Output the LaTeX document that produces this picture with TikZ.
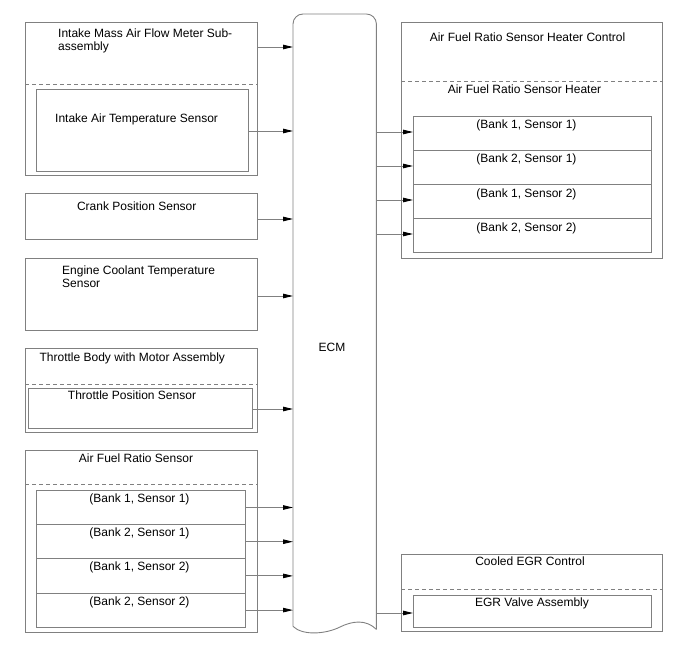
\documentclass[tikz,border=0pt]{standalone}
\usepackage{fontspec}
\setmainfont{Liberation Sans}
\usetikzlibrary{arrows.meta}
\definecolor{frame}{HTML}{808080}
\definecolor{ink}{HTML}{000000}

\begin{document}
\begin{tikzpicture}[x=1pt,y=-1pt,
  text=ink,
  font=\fontsize{12}{13.5}\selectfont,
  box/.style={draw=frame,line width=.9pt,anchor=north west,inner sep=0pt},
  sep/.style={draw=frame,line width=.8pt,dash pattern=on 4pt off 3pt},
  arrow/.style={draw=frame,line width=.9pt,-{Triangle[length=10pt,width=4.5pt,color=ink]}},
  txt/.style={inner sep=0pt,anchor=base},
  para/.style={inner sep=0pt,anchor=north west,align=left}
]
  \useasboundingbox (0,0) rectangle (688,658);

  % ECM
  \node[inner sep=0pt,minimum width=83,minimum height=612,anchor=north west] (ecm) at (293,14) {};
  \draw[draw=frame,line width=.9pt,rounded corners=10pt]
    ([yshift=-3pt]ecm.south east) -- (ecm.north east) -- (ecm.north west) -- (ecm.south west);
  \draw[draw=frame,line width=.9pt] (ecm.south west)
    .. controls (303,636) and (326,634) .. (340,627)
    .. controls (352,621) and (366,619) .. ([yshift=-3pt]ecm.south east);
  \node[txt] (ecmtxt) at (332,351.5) {ECM};

  % left column
  \node[box,minimum width=232,minimum height=153] (maf) at (25,22) {};
  \draw[sep] (maf.west |- 0,84) -- (maf.east |- 0,84);
  \node[para] (maftxt) at (58,28.5) {Intake Mass Air Flow Meter Sub-\\assembly};
  \node[box,minimum width=212,minimum height=82] (iat) at (36,89) {};
  \node[txt,anchor=base west] (iattxt) at (55,122.5) {Intake Air Temperature Sensor};

  \node[box,minimum width=232,minimum height=46] (crank) at (25,193) {};
  \node[txt] (cranktxt) at (136.7,210.5) {Crank Position Sensor};

  \node[box,minimum width=232,minimum height=72] (ect) at (25,258) {};
  \node[para] (ecttxt) at (62,265.5) {Engine Coolant Temperature\\Sensor};

  \node[box,minimum width=232,minimum height=84] (tb) at (25,348) {};
  \draw[sep] (tb.west |- 0,384) -- (tb.east |- 0,384);
  \node[txt] (tbtxt) at (132.3,361.5) {Throttle Body with Motor Assembly};
  \node[box,minimum width=224,minimum height=40] (tps) at (28,388) {};
  \node[txt] (tpstxt) at (132,399.5) {Throttle Position Sensor};

  \node[box,minimum width=232,minimum height=182] (afs) at (25,450) {};
  \draw[sep] (afs.west |- 0,484) -- (afs.east |- 0,484);
  \node[txt] (afstxt) at (136,462.5) {Air Fuel Ratio Sensor};

  \coordinate (mafp) at ([yshift=-25pt]maf.north east);
  \coordinate (iatp) at ([yshift=-42pt]iat.north east);
  \coordinate (crankp) at ([yshift=-26pt]crank.north east);
  \coordinate (ectp) at ([yshift=-38pt]ect.north east);
  \coordinate (tpsp) at ([yshift=-21pt]tps.north east);
  \foreach \n in {maf,iat,crank,ect,tps}
    \draw[arrow] (\n p) -- (\n p -| ecm.west);

  % right column
  \node[box,minimum width=261,minimum height=236] (hc) at (401,22) {};
  \draw[sep] (hc.west |- 0,81) -- (hc.east |- 0,81);
  \node[txt] (hctxt) at (527.5,41.5) {Air Fuel Ratio Sensor Heater Control};
  \node[txt] (hstxt) at (524.5,93.5) {Air Fuel Ratio Sensor Heater};

  \node[box,minimum width=261,minimum height=77] (egc) at (401,554) {};
  \draw[sep] (egc.west |- 0,589) -- (egc.east |- 0,589);
  \node[txt] (egctxt) at (530,565.5) {Cooled EGR Control};
  \node[box,minimum width=238,minimum height=32] (egr) at (413,595) {};
  \node[txt] (egrtxt) at (532,606.5) {EGR Valve Assembly};
  \coordinate (egrp) at ([yshift=-18pt]egr.north west);
  \draw[arrow] (egrp -| ecm.east) -- (egrp);

  % bank rows
  \foreach \i/\b/\s in {0/1/1,1/2/1,2/1/2,3/2/2}{
    \node[box,minimum width=209,minimum height=34.2] (as\i) at (36,{490+34.2*\i}) {};
    \node[txt] (ast\i) at ([yshift=-12.5pt,xshift=-1.5pt]as\i.north) {(Bank \b, Sensor \s)};
    \coordinate (ap\i) at ([yshift=-17.5pt]as\i.north east);
    \draw[arrow] (ap\i) -- (ap\i -| ecm.west);
    \node[box,minimum width=238,minimum height=34] (hs\i) at (413,{116+34*\i}) {};
    \node[txt] (hst\i) at ([yshift=-13pt,xshift=-6pt]hs\i.north) {(Bank \b, Sensor \s)};
    \coordinate (hp\i) at ([yshift=-16pt]hs\i.north west);
    \draw[arrow] (hp\i -| ecm.east) -- (hp\i);
  }
\end{tikzpicture}
\end{document}
